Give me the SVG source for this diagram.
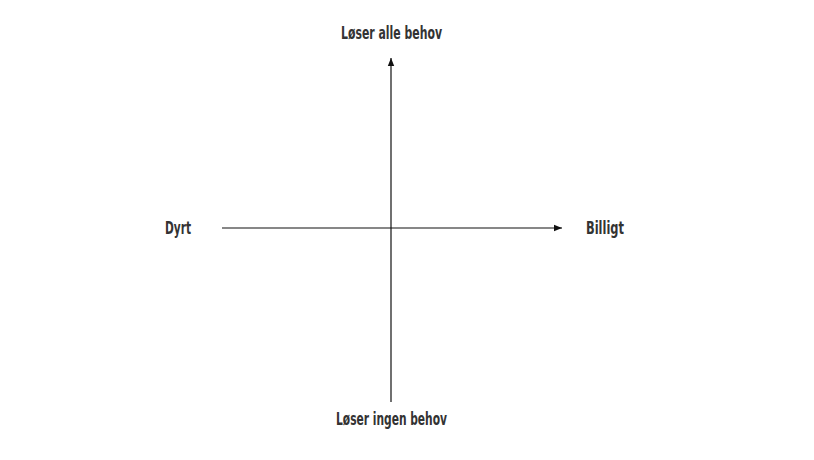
<svg xmlns="http://www.w3.org/2000/svg" width="814" height="460" viewBox="0 0 814 460">
<style>
text{font-family:"DejaVu Sans Condensed","Liberation Sans Narrow","Liberation Sans",sans-serif;font-weight:bold;font-size:17px;fill:#333;}
.ax{stroke:#111;stroke-width:1.2;fill:none;}
</style>
<defs>
<marker id="ah" viewBox="0 0 10 10" refX="10" refY="5" markerWidth="8" markerHeight="8" markerUnits="userSpaceOnUse" orient="auto">
<path d="M0,1 L10,5 L0,9 Z" fill="#111"/>
</marker>
</defs>
<rect width="814" height="460" fill="#fff"/>
<g id="connectors">
<line class="ax" x1="391" y1="402" x2="391" y2="58" marker-end="url(#ah)"/>
<line class="ax" x1="222" y1="228" x2="562" y2="228" marker-end="url(#ah)"/>
</g>
<g id="top"><text x="341" y="39" textLength="101" lengthAdjust="spacingAndGlyphs">Løser alle behov</text></g>
<g id="left"><text x="165" y="234" textLength="26" lengthAdjust="spacingAndGlyphs">Dyrt</text></g>
<g id="right"><text x="586" y="234" textLength="38" lengthAdjust="spacingAndGlyphs">Billigt</text></g>
<g id="bottom"><text x="336" y="425" textLength="111" lengthAdjust="spacingAndGlyphs">Løser ingen behov</text></g>
</svg>
